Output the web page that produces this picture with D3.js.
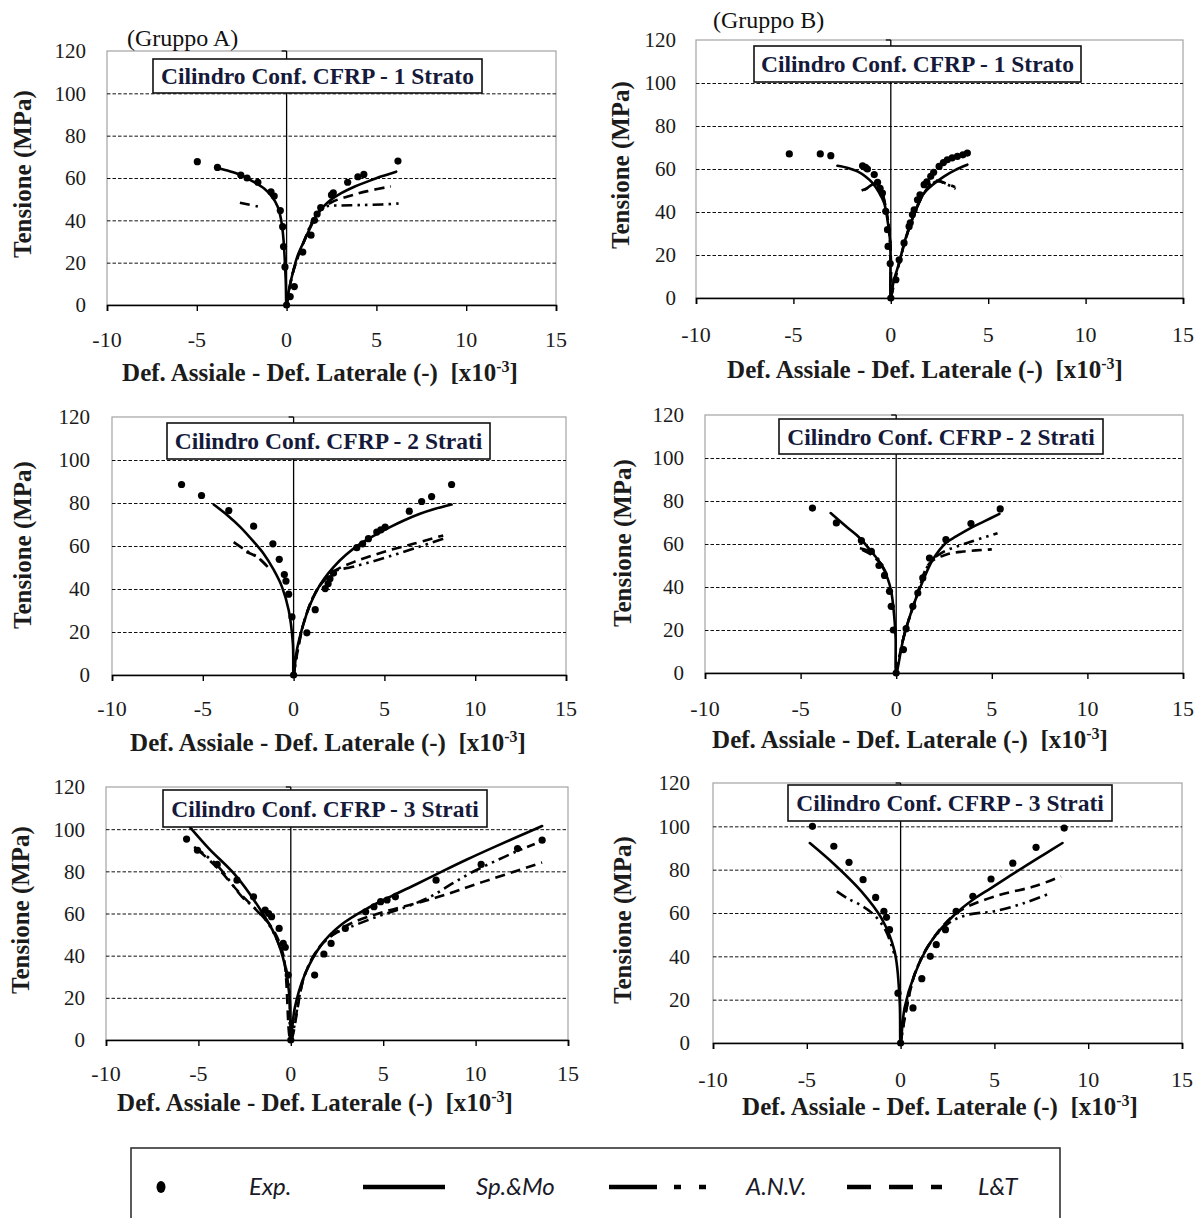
<!DOCTYPE html>
<html>
<head>
<meta charset="utf-8">
<script src="https://cdn.jsdelivr.net/npm/d3@7"></script>
<style>
  body { margin: 0; background: #fff; }
  svg { display: block; }
</style>
</head>
<body>
<svg id="chart" width="1196" height="1218"></svg>
<script>
// ---- tick values (shared by all six panels)
const xTicks = [-10, -5, 0, 5, 10, 15];
const yTicks = [0, 20, 40, 60, 80, 100, 120];

// ---- Gruppo A, 1 strato
const expA1 = [[-4.97,67.7],[-3.85,65],[-2.55,61.4],[-2.2,60],[-1.6,58],[-0.87,53.5],[-0.69,51.5],[-0.35,44.6],[-0.22,37],[-0.17,27.6],[-0.09,18],[0,0],
  [0.2,4],[0.43,8.7],[0.9,25],[1.36,33],[1.55,40],[1.7,43],[1.9,46],[2.5,52],[2.6,53],[3.4,58],[3.97,60.6],[4.3,61.7],[6.2,68]];
const spmoA1 = [[-3.95,65],[-3.3,63.5],[-2.55,61.4],[-1.9,58.5],[-1.25,55],[-0.8,51],[-0.5,46.5],[-0.3,40],[-0.17,30.7],[-0.05,12],[0,0],
  [0.15,8],[0.34,15],[0.6,23],[1,30.7],[1.4,38],[1.73,43.3],[2.3,48.5],[3.04,52.8],[3.8,56],[4.5,58.3],[5.3,60.8],[6.1,63]];
const anvA1 = [[0,0],[0.34,15],[1,30.7],[1.6,42],[2.2,46.5],[3.0,47],[4.0,47.2],[5.3,47.5],[6.3,48]];
const ltA1 = [[-2.6,48.3],[-1.6,46.5],null,[0,0],[0.34,15],[1,30.7],[1.73,43.3],[2.5,48.5],[3.5,51.5],[4.5,53.8],[5.8,56]];

// ---- Gruppo B, 1 strato
const expB1 = [[-5.21,67],[-3.62,67],[-3.08,66.2],[-1.45,61.5],[-1.3,60.8],[-1.2,60],[-0.85,57.4],[-0.68,53.8],[-0.55,51],[-0.43,48.8],[-0.26,40.3],[-0.17,31.8],[-0.14,24],[-0.03,16],[0,0],
  [0.26,8.5],[0.43,17.8],[0.68,25.6],[0.94,33.3],[1.0,35],[1.11,38.8],[1.2,41],[1.37,45.7],[1.5,48],[1.71,52.7],[1.85,54],[2.05,56.6],[2.2,58.5],[2.48,61.2],[2.7,63],[2.9,64.3],[3.15,65.2],[3.42,65.9],[3.7,66.6],[3.93,67.4]];
const spmoB1 = [[-2.74,61.5],[-2.2,60.5],[-1.71,58.9],[-1.3,56.5],[-0.94,53.5],[-0.6,49],[-0.34,44.2],[-0.15,35],[-0.03,25.6],[0,0],
  [0.15,8],[0.43,16.3],[0.7,26],[1.03,34.9],[1.35,42.5],[1.71,48.8],[2.2,53],[2.74,56.6],[3.3,59.5],[3.93,62]];
const anvB1 = [[0,0],[-0.03,25.6],[-0.3,44],[-0.68,54.3],[-1.0,52.5],[-1.45,49.6],null,[0,0],[0.43,16.3],[1.03,34.9],[1.71,48.8],[2.1,53],[2.4,54.3],[2.9,52.8],[3.33,50.7]];
const ltB1 = [[0,0],[-0.03,25.6],[-0.3,44],[-0.7,53.5],[-1.1,51.5],[-1.5,50],null,[0,0],[0.43,16.3],[1.03,34.9],[1.71,48.8],[2.3,54.5],[2.9,53],[3.3,51.5]];

// ---- Gruppo A, 2 strati
const expA2 = [[-6.17,88.6],[-5.07,83.5],[-3.57,76.5],[-2.2,69.2],[-1.14,61],[-0.79,53.8],[-0.51,46.7],[-0.42,43.7],[-0.27,37.6],[-0.09,27],[0,0],
  [0.73,19.6],[1.19,30.4],[1.74,40.2],[1.9,42.5],[2.0,44.8],[2.2,47.4],[3.48,59.2],[3.8,61],[4.12,63.4],[4.58,66.5],[4.8,67.5],[5.04,68.8],[6.37,76.2],[7.05,80.7],[7.6,83],[8.7,88.6]];
const spmoA2 = [[-4.4,79.3],[-3.6,74],[-2.93,68.8],[-2.2,62],[-1.65,56.4],[-1.1,49],[-0.64,41],[-0.27,30.1],[-0.04,14.7],[0,0],
  [0.18,11.6],[0.55,24],[0.9,32.5],[1.28,39.4],[1.7,45],[2.2,50.2],[2.9,56],[3.66,61],[4.5,65.2],[5.31,68.8],[6.1,72],[6.96,75],[7.8,77.3],[8.7,79.3]];
const anvA2 = [[-3.3,61.8],[-2.6,57.8],[-2.0,54.9],[-1.4,50],null,[0,0],[0.55,24],[1.28,39.4],[2.2,48],[3.2,50.2],[4.67,53.6],[6.87,59.5],[8.24,63.4]];
const ltA2 = [[-2.6,57.2],[-2.0,54.9],[-1.5,51],null,[0,0],[0.55,24],[1.28,39.4],[2.1,47.5],[3.3,52.5],[4.95,57.2],[6.59,61],[8.24,64.9]];

// ---- Gruppo B, 2 strati
const expB2 = [[-4.38,76.7],[-3.13,69.8],[-1.82,61.6],[-1.3,56.6],[-0.9,50],[-0.61,45.4],[-0.35,38],[-0.26,31],[-0.15,20],[0,0],
  [0.38,10.9],[0.52,20.6],[0.87,31],[1.13,37.2],[1.39,44.2],[1.74,53.5],[2.6,62],[3.91,69.5],[5.44,76.3]];
const spmoB2 = [[-3.43,74.4],[-2.6,68],[-1.91,62.8],[-1.3,56.5],[-0.78,50.4],[-0.45,44],[-0.26,38],[-0.1,26],[-0.03,16.3],[0,0],
  [0.38,16.3],[0.7,26],[1.04,34.9],[1.45,44],[1.91,52.7],[2.6,60.5],[3.13,63.5],[3.91,67.5],[4.6,70.5],[5.4,74]];
const anvB2 = [[-0.5,46],[-1.2,55.8],[-1.9,58],null,[0,0],[0.38,16.3],[1.04,34.9],[1.74,51],[2.4,56],[3.9,61],[5.3,65]];
const ltB2 = [[-0.7,50],[-1.3,55],[-1.8,57.4],null,[0,0],[0.38,16.3],[1.04,34.9],[1.74,51],[2.6,55],[3.5,56.5],[5.0,57.5]];

// ---- Gruppo A, 3 strati
const expA3 = [[-5.64,95.3],[-5.05,90],[-3.98,83.3],[-2.91,75.8],[-2.02,67.9],[-1.39,61.6],[-1.2,60],[-1.04,58.5],[-0.63,52.9],[-0.41,45.8],[-0.3,44],[-0.14,30.8],[0,0],
  [1.29,30.8],[1.79,40.8],[2.18,45.8],[2.95,52.9],[4.05,60.8],[4.5,63.2],[4.86,65.6],[5.21,66.4],[5.66,67.9],[7.86,75.8],[10.3,83.3],[12.27,90.8],[13.6,94.8]];
const spmoA3 = [[-5.46,101],[-4.43,90.8],[-3.0,78.2],[-1.75,63.2],[-0.86,49.8],[-0.32,35.5],[-0.05,18.2],[0,0],
  [0.21,15],[0.75,30.8],[1.64,45],[2.71,54.5],[4.14,62.4],[5.5,68.5],[6.82,74],[8.2,80],[9.5,85.5],[11.0,91.5],[12.3,96.5],[13.6,101.5]];
const anvA3 = [[-5.23,91.6],[-4.0,83],[-2.64,67.9],[-1.93,62.4],[-1.2,55],[-0.5,42],[-0.1,25],[0,0],
  [0.75,30.8],[1.64,45],[2.5,51],[3.25,53.7],[4.68,58.5],[6.2,63],[7.54,67.9],[8.7,74],[9.86,79.8],[11.1,85],[12.36,90],[13.2,93]];
const ltA3 = [[-5.0,90],[-3.9,81],[-2.8,70],[-1.9,62],[-1.0,53],[-0.4,40],[0,0],
  [0.75,30.8],[1.64,45],[2.6,52],[3.43,56],[5.04,60.8],[7.71,67.1],[10.4,75],[13.6,84.2]];

// ---- Gruppo B, 3 strati
const expB3 = [[-4.7,100],[-3.56,90.8],[-2.75,83.4],[-2.0,75.4],[-1.33,67.2],[-0.89,60.8],[-0.75,58],[-0.59,52.3],[-0.14,23],[0,0],
  [0.66,16.2],[1.13,29.7],[1.58,40],[1.9,45.4],[2.39,52.3],[2.96,60.8],[3.85,67.7],[4.82,75.7],[5.98,83],[7.22,90.3],[8.72,99.2]];
const spmoB3 = [[-4.84,92.3],[-3.51,82.3],[-2.09,70],[-1.03,57.7],[-0.32,42.3],[-0.05,19.2],[0,0],
  [0.21,16.2],[0.74,31.5],[1.63,46.9],[2.87,59.2],[3.8,65.8],[4.82,71.5],[5.8,77],[6.77,82.3],[7.7,87.3],[8.63,92.3]];
const anvB3 = [[-3.4,70],[-2.8,66.6],[-2.1,63.5],[-1.4,59],[-0.8,52],[-0.3,40],null,[0,0],
  [0.74,31.5],[1.63,46.9],[2.6,55.5],[3.58,59.2],[5.0,60.8],[6.6,64.6],[8.0,69.2]];
const ltB3 = [[0,0],[0.74,31.5],[1.63,46.9],[2.7,58],[3.58,63],[5.35,68.5],[7.13,72.3],[8.55,76.9]];

// ---- legend
const legendItems = ["Exp.", "Sp.&Mo", "A.N.V.", "L&T"];

// panel layout (pixel boxes)
const panels = [
  { title: "Cilindro Conf. CFRP - 1 Strato", exp: expA1, spmo: spmoA1, anv: anvA1, lt: ltA1,
    left: 107, right: 556, top: 51, bottom: 305, box: [153, 59, 329, 34],
    yLabX: 86, xLabY: 339, xTitle: [320, 381], yTitle: [22, 174] },
  { title: "Cilindro Conf. CFRP - 1 Strato", exp: expB1, spmo: spmoB1, anv: anvB1, lt: ltB1,
    left: 696, right: 1183, top: 40, bottom: 298, box: [754, 46, 327, 36],
    yLabX: 676, xLabY: 334, xTitle: [925, 378], yTitle: [620, 165] },
  { title: "Cilindro Conf. CFRP - 2 Strati", exp: expA2, spmo: spmoA2, anv: anvA2, lt: ltA2,
    left: 112, right: 566, top: 417, bottom: 675, box: [167, 423, 323, 36],
    yLabX: 90, xLabY: 708, xTitle: [328, 751], yTitle: [22, 545] },
  { title: "Cilindro Conf. CFRP - 2 Strati", exp: expB2, spmo: spmoB2, anv: anvB2, lt: ltB2,
    left: 705, right: 1183, top: 415, bottom: 673, box: [779, 419, 324, 35],
    yLabX: 684, xLabY: 708, xTitle: [910, 748], yTitle: [622, 543] },
  { title: "Cilindro Conf. CFRP - 3 Strati", exp: expA3, spmo: spmoA3, anv: anvA3, lt: ltA3,
    left: 106, right: 568, top: 787, bottom: 1040, box: [163, 790, 324, 37],
    yLabX: 85, xLabY: 1073, xTitle: [315, 1111], yTitle: [20, 910] },
  { title: "Cilindro Conf. CFRP - 3 Strati", exp: expB3, spmo: spmoB3, anv: anvB3, lt: ltB3,
    left: 713, right: 1182, top: 783, bottom: 1043, box: [788, 785, 324, 36],
    yLabX: 690, xLabY: 1079, xTitle: [940, 1115], yTitle: [622, 920] }
];

const SERIF = "'Liberation Serif', 'Times New Roman', serif";
const INK = "#1b1b1b";
const TITLE_INK = "#15193a";
const ANV_DASH = "11,5,2.5,5,2.5,5";
const LT_DASH = "10,6";

const svg = d3.select("#chart");
svg.append("rect").attr("width", 1196).attr("height", 1218).attr("fill", "#fff");

function drawPanel(p) {
    const x = d3.scaleLinear().domain([-10, 15]).range([p.left, p.right]);
    const y = d3.scaleLinear().domain([0, 120]).range([p.bottom, p.top]);
    const g = svg.append("g");

    // plot frame (light grey)
    g.append("rect")
        .attr("x", p.left).attr("y", p.top)
        .attr("width", p.right - p.left).attr("height", p.bottom - p.top)
        .attr("fill", "#fff").attr("stroke", "#a3a3a3").attr("stroke-width", 1.2);

    // dashed gridlines
    g.append("g")
        .attr("transform", `translate(${p.left},0)`)
        .call(d3.axisLeft(y).tickValues(yTicks.filter(v => v > 0 && v < 120))
            .tickSize(-(p.right - p.left)).tickFormat(""))
        .call(a => a.select(".domain").remove())
        .selectAll("line")
        .attr("stroke", "#111").attr("stroke-width", 1).attr("stroke-dasharray", "3.5,2");

    // y tick labels, on the left of the frame
    g.selectAll(".ylab").data(yTicks).join("text")
        .attr("x", p.yLabX).attr("y", d => y(d)).attr("dy", "0.35em")
        .attr("text-anchor", "end")
        .attr("font-family", SERIF).attr("font-size", 21).attr("fill", INK)
        .text(d => d);

    // vertical axis through zero, with the stub at the top
    g.append("line")
        .attr("x1", x(0)).attr("x2", x(0)).attr("y1", p.top).attr("y2", p.bottom)
        .attr("stroke", "#000").attr("stroke-width", 1.3);
    g.append("line")
        .attr("x1", x(0) - 5).attr("x2", x(0)).attr("y1", p.top).attr("y2", p.top)
        .attr("stroke", "#000").attr("stroke-width", 1.3);

    // x axis
    const xa = g.append("g")
        .attr("transform", `translate(0,${p.bottom})`)
        .call(d3.axisBottom(x).tickValues(xTicks).tickSize(6).tickFormat(""));
    xa.select(".domain").attr("stroke", "#000").attr("stroke-width", 1.6);
    xa.selectAll("line").attr("stroke", "#000").attr("stroke-width", 1.4);

    g.selectAll(".xlab").data(xTicks).join("text")
        .attr("x", d => x(d)).attr("y", p.xLabY).attr("dy", "0.35em")
        .attr("text-anchor", "middle")
        .attr("font-family", SERIF).attr("font-size", 22).attr("fill", INK)
        .text(d => d);

    // axis titles
    const xt = g.append("text")
        .attr("x", p.xTitle[0]).attr("y", p.xTitle[1])
        .attr("text-anchor", "middle")
        .attr("font-family", SERIF).attr("font-size", 25).attr("font-weight", "bold").attr("fill", INK)
        .attr("xml:space", "preserve");
    xt.append("tspan").text("Def. Assiale - Def. Laterale (-)  [x10");
    xt.append("tspan").attr("font-size", 16).attr("dy", -9).text("-3");
    xt.append("tspan").attr("dy", 9).text("]");

    g.append("text")
        .attr("transform", `translate(${p.yTitle[0]},${p.yTitle[1]}) rotate(-90)`)
        .attr("text-anchor", "middle").attr("dy", "0.35em")
        .attr("font-family", SERIF).attr("font-size", 25).attr("font-weight", "bold").attr("fill", INK)
        .text("Tensione (MPa)");

    // curves
    const line = d3.line()
        .defined(d => d !== null)
        .x(d => x(d[0])).y(d => y(d[1]))
        .curve(d3.curveCatmullRom.alpha(0.5));

    g.append("path").attr("d", line(p.lt))
        .attr("fill", "none").attr("stroke", "#000").attr("stroke-width", 2.6)
        .attr("stroke-dasharray", LT_DASH);
    g.append("path").attr("d", line(p.anv))
        .attr("fill", "none").attr("stroke", "#000").attr("stroke-width", 2.6)
        .attr("stroke-dasharray", ANV_DASH);
    g.append("path").attr("d", line(p.spmo))
        .attr("fill", "none").attr("stroke", "#000").attr("stroke-width", 2.6)
        .attr("stroke-linecap", "round");

    g.selectAll(".dot").data(p.exp).join("circle")
        .attr("cx", d => x(d[0])).attr("cy", d => y(d[1])).attr("r", 3.6)
        .attr("fill", "#000");

    // title box
    g.append("rect")
        .attr("x", p.box[0]).attr("y", p.box[1]).attr("width", p.box[2]).attr("height", p.box[3])
        .attr("fill", "#fff").attr("stroke", "#111").attr("stroke-width", 1.6);
    g.append("text")
        .attr("x", p.box[0] + p.box[2] / 2).attr("y", p.box[1] + p.box[3] / 2).attr("dy", "0.36em")
        .attr("text-anchor", "middle")
        .attr("font-family", SERIF).attr("font-size", 23.5).attr("font-weight", "bold")
        .attr("fill", TITLE_INK)
        .text(p.title);
}

panels.forEach(drawPanel);

// group captions
svg.append("text").attr("x", 127).attr("y", 46)
    .attr("font-family", SERIF).attr("font-size", 24).attr("fill", "#111").text("(Gruppo A)");
svg.append("text").attr("x", 713).attr("y", 28)
    .attr("font-family", SERIF).attr("font-size", 24).attr("fill", "#111").text("(Gruppo B)");

// legend
const lg = svg.append("g");
lg.append("rect").attr("x", 131).attr("y", 1148).attr("width", 929).attr("height", 90)
    .attr("fill", "#fff").attr("stroke", "#333").attr("stroke-width", 1.6);
const ly = 1187;
lg.append("ellipse").attr("cx", 161).attr("cy", ly).attr("rx", 4.5).attr("ry", 6).attr("fill", "#000");
lg.append("line").attr("x1", 363).attr("x2", 445).attr("y1", ly).attr("y2", ly)
    .attr("stroke", "#000").attr("stroke-width", 4.5);
lg.append("line").attr("x1", 609).attr("x2", 707).attr("y1", ly).attr("y2", ly)
    .attr("stroke", "#000").attr("stroke-width", 4.5).attr("stroke-dasharray", "48,17,7,18,7,30");
lg.append("line").attr("x1", 847).attr("x2", 942).attr("y1", ly).attr("y2", ly)
    .attr("stroke", "#000").attr("stroke-width", 4.5).attr("stroke-dasharray", "24,18");
const legendX = [249, 476, 746, 978];
lg.selectAll(".lt").data(legendItems).join("text")
    .attr("x", (d, i) => legendX[i]).attr("y", ly).attr("dy", "0.35em")
    .attr("font-family", "Lato, 'Open Sans', sans-serif").attr("font-style", "italic")
    .attr("font-size", 24).attr("fill", "#1a1a28")
    .text(d => d);
</script>
</body>
</html>
